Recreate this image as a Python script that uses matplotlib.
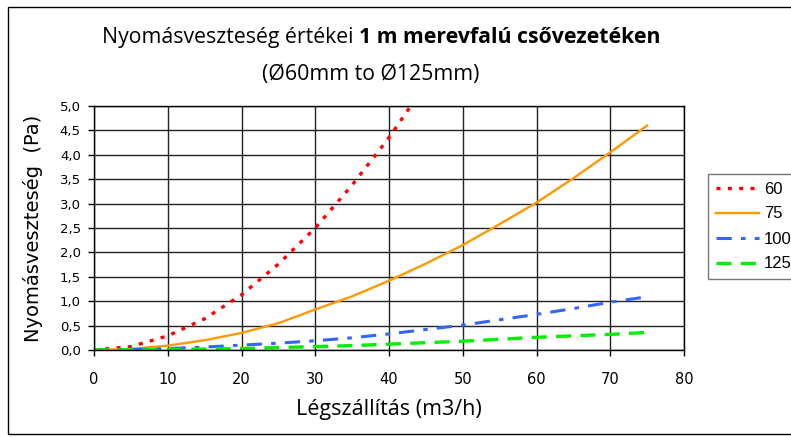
import numpy as np
import matplotlib.pyplot as plt
from matplotlib.patches import Rectangle

# adatok
flow = [0, 5, 10, 15, 20, 25, 30, 35, 40, 45, 50, 55, 60, 65, 70, 75]
flow_60 = [0, 5, 10, 15, 20, 25, 30, 35, 40, 45]
dp_60 = [0, 0.07, 0.29, 0.64, 1.13, 1.76, 2.50, 3.38, 4.35, 5.45]
dp_75 = [0, 0.02, 0.09, 0.20, 0.35, 0.55, 0.83, 1.10, 1.42, 1.77, 2.15, 2.58, 3.02, 3.52, 4.05, 4.60]
dp_100 = [0, 0.01, 0.03, 0.06, 0.10, 0.14, 0.19, 0.25, 0.33, 0.42, 0.51, 0.62, 0.73, 0.85, 0.98, 1.09]
dp_125 = [0, 0.0, 0.01, 0.02, 0.03, 0.05, 0.07, 0.09, 0.12, 0.15, 0.18, 0.22, 0.26, 0.29, 0.32, 0.36]

x_ticks = [0, 10, 20, 30, 40, 50, 60, 70, 80]
y_ticks = [0, 0.5, 1.0, 1.5, 2.0, 2.5, 3.0, 3.5, 4.0, 4.5, 5.0]

W, H = 791, 437
fig = plt.figure(figsize=(W / 100, H / 100), dpi=100)
# keret a diagram körül
fig.patches.append(Rectangle((7.5 / W, 1 - 434 / H), 1.0, 427.5 / H,
                             transform=fig.transFigure, fill=False,
                             edgecolor='black', lw=1.0))

ax = fig.add_axes([94 / W, 1 - 350 / H, 590 / W, 244 / H])

ax.plot(flow_60, dp_60, color='#ff0000', lw=2.4, ls=(0, (1.2, 2.2)), label='60')
ax.plot(flow, dp_75, color='#ff9900', lw=1.7, ls='-', label='75')
ax.plot(flow, dp_100, color='#3366ff', lw=2.2, ls=(0, (5, 3, 1.5, 3)), label='100')
ax.plot(flow, dp_125, color='#00ee00', lw=2.4, ls=(0, (4.5, 2.8)), label='125')

ax.set_xlim(0, 80)
ax.set_ylim(0, 5)
ax.set_xticks(x_ticks)
ax.set_yticks(y_ticks)
ax.set_yticklabels([f'{v:.1f}'.replace('.', ',') for v in y_ticks], fontsize=9.5)
ax.set_xticklabels([str(v) for v in x_ticks], fontsize=10.5)
ax.tick_params(direction='out', length=4.5, width=1, pad=5)
ax.tick_params(axis='x', pad=11)
ax.grid(True, color='#222222', lw=1)
ax.set_axisbelow(True)
for s in ax.spines.values():
    s.set_color('black')
    s.set_linewidth(1)

ax.set_ylabel('Nyomásveszteség  (Pa)', fontsize=14, labelpad=12)
ax.set_xlabel('Légszállítás (m3/h)', fontsize=15.5, family='Open Sans', labelpad=9)

fig.text(359 / W, 1 - 43 / H, 'Nyomásveszteség értékei ', ha='right', va='baseline',
         fontsize=15.3, family='Open Sans')
fig.text(359 / W, 1 - 43 / H, '1 m merevfalú csővezetéken', ha='left', va='baseline',
         fontsize=15.3, family='Open Sans', weight='bold')
fig.text(371 / W, 1 - 80 / H, '(Ø60mm to Ø125mm)', ha='center', va='baseline',
         fontsize=15.3, family='Open Sans')

leg = ax.legend(loc='upper left', bbox_to_anchor=(708 / W, 1 - 174 / H),
                bbox_transform=fig.transFigure, prop={'family': 'Liberation Sans', 'size': 12},
                frameon=True, fancybox=False, edgecolor='#555555', handlelength=2.6,
                handletextpad=0.3, labelspacing=0.6, borderpad=0.45, borderaxespad=0)
leg.get_frame().set_linewidth(1)

fig.savefig('out.png', dpi=100)
